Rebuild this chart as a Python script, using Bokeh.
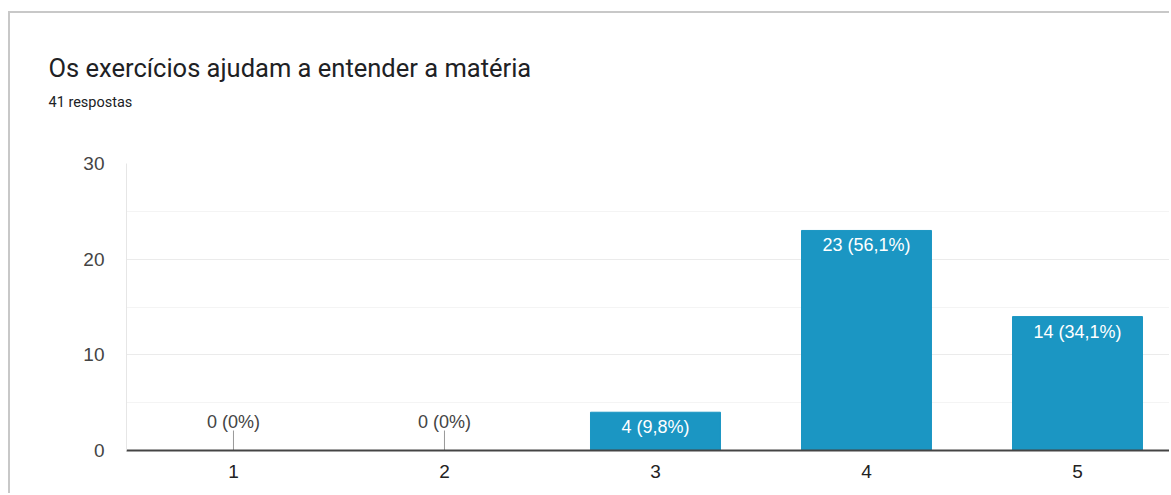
from bokeh.plotting import figure
from bokeh.models import Range1d, FixedTicker, Title, ColumnDataSource
from bokeh.embed import file_html
from bokeh.resources import INLINE
from bokeh.core.properties import value
import math

title_text = "Os exercícios ajudam a entender a matéria"
categories = ["1", "2", "3", "4", "5"]
counts = [0, 0, 4, 23, 14]
y_ticks = [0, 10, 20, 30]
y_minor_ticks = [5, 15, 25]

total = sum(counts)
xs = [float(c) for c in categories]


def pct_text(v):
    if v == 0:
        return "0"
    return f"{v / total * 100:.1f}".replace(".", ",")


labels = [f"{v} ({pct_text(v)}%)" for v in counts]

BAR = "#1b96c3"
FONT = "Roboto"
LABEL_FONT = "Liberation Sans"

p = figure(width=1161, height=482, output_backend="svg", toolbar_location=None,
           title=None,
           x_range=Range1d(0.493, 5.4455), y_range=Range1d(0, 30),
           min_border_left=116, min_border_right=0, min_border_top=150,
           min_border_bottom=45)
p.styles = {"border-left": "2px solid #c8c8c8", "border-top": "2px solid #c8c8c8",
            "margin-top": "11px", "margin-left": "8px"}
p.outline_line_color = None
p.background_fill_color = "white"
p.border_fill_color = "white"

# titles (first added sits closest to the frame)
sub = Title(text=f"{total} respostas", align="left", text_font=FONT,
            text_font_size="14.5px", text_font_style="normal", text_color="#202124",
            offset=-78, standoff=106)
p.add_layout(sub, "above")
main = Title(text=title_text, align="left", text_font=FONT,
             text_font_size="25.5px", text_font_style="normal", text_color="#202124",
             offset=-78, standoff=-89)
p.add_layout(main, "above")

nz = ColumnDataSource(dict(x=[x for x, v in zip(xs, counts) if v > 0],
                           top=[v for v in counts if v > 0],
                           label=[l for l, v in zip(labels, counts) if v > 0]))
zs = ColumnDataSource(dict(x=[x for x, v in zip(xs, counts) if v == 0],
                           top=[v for v in counts if v == 0],
                           label=[l for l, v in zip(labels, counts) if v == 0]))

p.vbar(x="x", top="top", bottom=0, width=0.616, source=nz, fill_color=BAR,
       line_color=BAR)
p.text(x="x", y="top", text="label", source=nz, text_align="center",
       text_baseline="middle", y_offset=15, text_color="white",
       text_font=value(LABEL_FONT), text_font_size="18px")

p.ray(x="x", y="top", source=zs, length=20, length_units="screen",
      angle=math.pi / 2, line_color="#999999", line_width=1)
p.text(x="x", y="top", text="label", source=zs, text_align="center",
       text_baseline="middle", y_offset=-29, text_color="#444444",
       text_font=value(LABEL_FONT), text_font_size="18px")

# axes
p.xaxis.ticker = FixedTicker(ticks=xs)
p.xaxis.major_label_overrides = {x: c for x, c in zip(xs, categories)}
p.xaxis.axis_line_color = "#444444"
p.xaxis.axis_line_width = 2
p.xaxis.major_tick_line_color = None
p.xaxis.minor_tick_line_color = None
p.xaxis.major_tick_out = 0
p.xaxis.major_tick_in = 0
p.xaxis.major_label_standoff = 14
p.xaxis.major_label_text_font = LABEL_FONT
p.xaxis.major_label_text_font_size = "19px"
p.xaxis.major_label_text_color = "#222222"

p.yaxis.ticker = FixedTicker(ticks=y_ticks, minor_ticks=y_minor_ticks)
p.yaxis.axis_line_color = "#e6e6e6"
p.yaxis.major_tick_line_color = None
p.yaxis.minor_tick_line_color = None
p.yaxis.major_tick_out = 0
p.yaxis.major_tick_in = 0
p.yaxis.major_label_standoff = 18
p.yaxis.major_label_text_font = LABEL_FONT
p.yaxis.major_label_text_font_size = "19px"
p.yaxis.major_label_text_color = "#444444"

p.xgrid.grid_line_color = None
p.ygrid.grid_line_color = "#ebebeb"
p.ygrid.minor_grid_line_color = "#f4f4f4"

open("out.html", "w").write(file_html(p, INLINE))
